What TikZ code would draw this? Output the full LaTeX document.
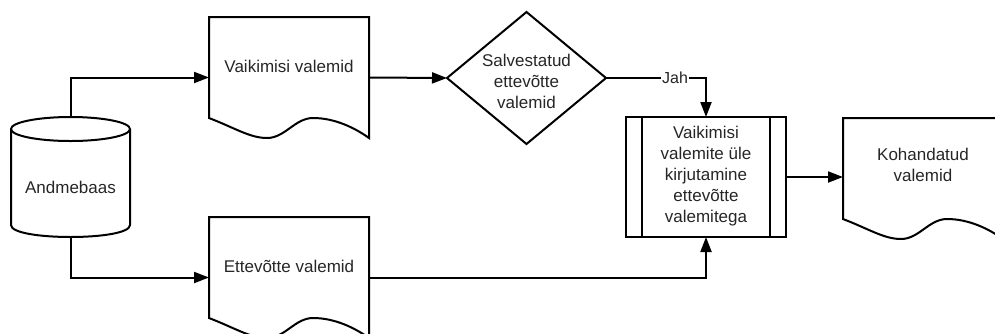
\documentclass[tikz,border=0pt]{standalone}
\usepackage{fontspec}
\setmainfont{Liberation Sans}
\usetikzlibrary{arrows.meta}
\begin{document}
\begin{tikzpicture}[x=1pt,y=-1pt,
  shp/.style={draw=black, line width=2pt, line join=miter},
  arr/.style={draw=black, line width=2pt, -{Triangle[length=15pt,width=11pt]}},
  anc/.style={inner sep=0pt, outer sep=0pt, draw=none, rectangle},
  txt/.style={font=\fontsize{17}{21}\selectfont, align=center, text=black!85, inner sep=0pt}]
\useasboundingbox (0,0) rectangle (995,333);
\clip (0,0) rectangle (995,333);
% database cylinder
\draw[shp] (70.5,129) ellipse [x radius=59.5, y radius=12];
\draw[shp] (11,129) -- (11,225) .. controls (11,241) and (130,241) .. (130,225) -- (130,129);
% documents
\foreach \dx/\dy in {209/17, 209/217, 843/118}{
  \begin{scope}[shift={(\dx,\dy)}]
    \draw[shp] (0,0) -- (160,0) -- (160,121)
      .. controls (146,111) and (126,101) .. (104,101)
      .. controls (86,101) and (76,121) .. (58,121)
      .. controls (41,121) and (26,111) .. (0,101) -- cycle;
  \end{scope}
}
% decision
\draw[shp] (447,78) -- (526.5,12) -- (606,78) -- (526.5,144) -- cycle;
% predefined process
\draw[shp] (626,117) rectangle (786,237);
\draw[shp] (642,117) -- (642,237);
\draw[shp] (770,117) -- (770,237);
% anchor nodes
\node[anc, minimum width=119pt, minimum height=120pt] (db) at (70.5,177) {};
\node[anc, minimum width=160pt, minimum height=121pt] (doc1) at (289,77.5) {};
\node[anc, minimum width=159pt, minimum height=132pt] (dia) at (526.5,78) {};
\node[anc, minimum width=160pt, minimum height=120pt] (proc) at (706,177) {};
\node[anc, minimum width=160pt, minimum height=121pt] (doc2) at (289,277.5) {};
\node[anc, minimum width=160pt, minimum height=121pt] (doc3) at (923,178.5) {};
% texts
\node[txt] (dbt) at (70.5,187) {Andmebaas};
\node[txt] (doc1t) at (289,66) {Vaikimisi valemid};
\node[txt] (doc2t) at (289,266) {Ettevõtte valemid};
\node[txt] (diat) at (526.5,81) {Salvestatud\\ettevõtte\\valemid};
\node[txt] (proct) at (706,176.5) {Vaikimisi\\valemite üle\\kirjutamine\\ettevõtte\\valemitega};
\node[txt] (doc3t) at (923,165) {Kohandatud\\valemid};
% connectors
\draw[arr] (db.north) |- (doc1.west);
\draw[arr] (db.south) |- (doc2.west);
\draw[arr] (doc1.east) -- (dia.west);
\draw[arr] (dia.east) -| node[pos=0.345, txt, fill=white, inner xsep=1.5pt, inner ysep=1pt, font=\fontsize{16}{19}\selectfont] (jah) {Jah} (proc.north);
\draw[arr] (doc2.east) -| (proc.south);
\draw[arr] (proc.east) -- (proc.east -| doc3.west);
\end{tikzpicture}
\end{document}
